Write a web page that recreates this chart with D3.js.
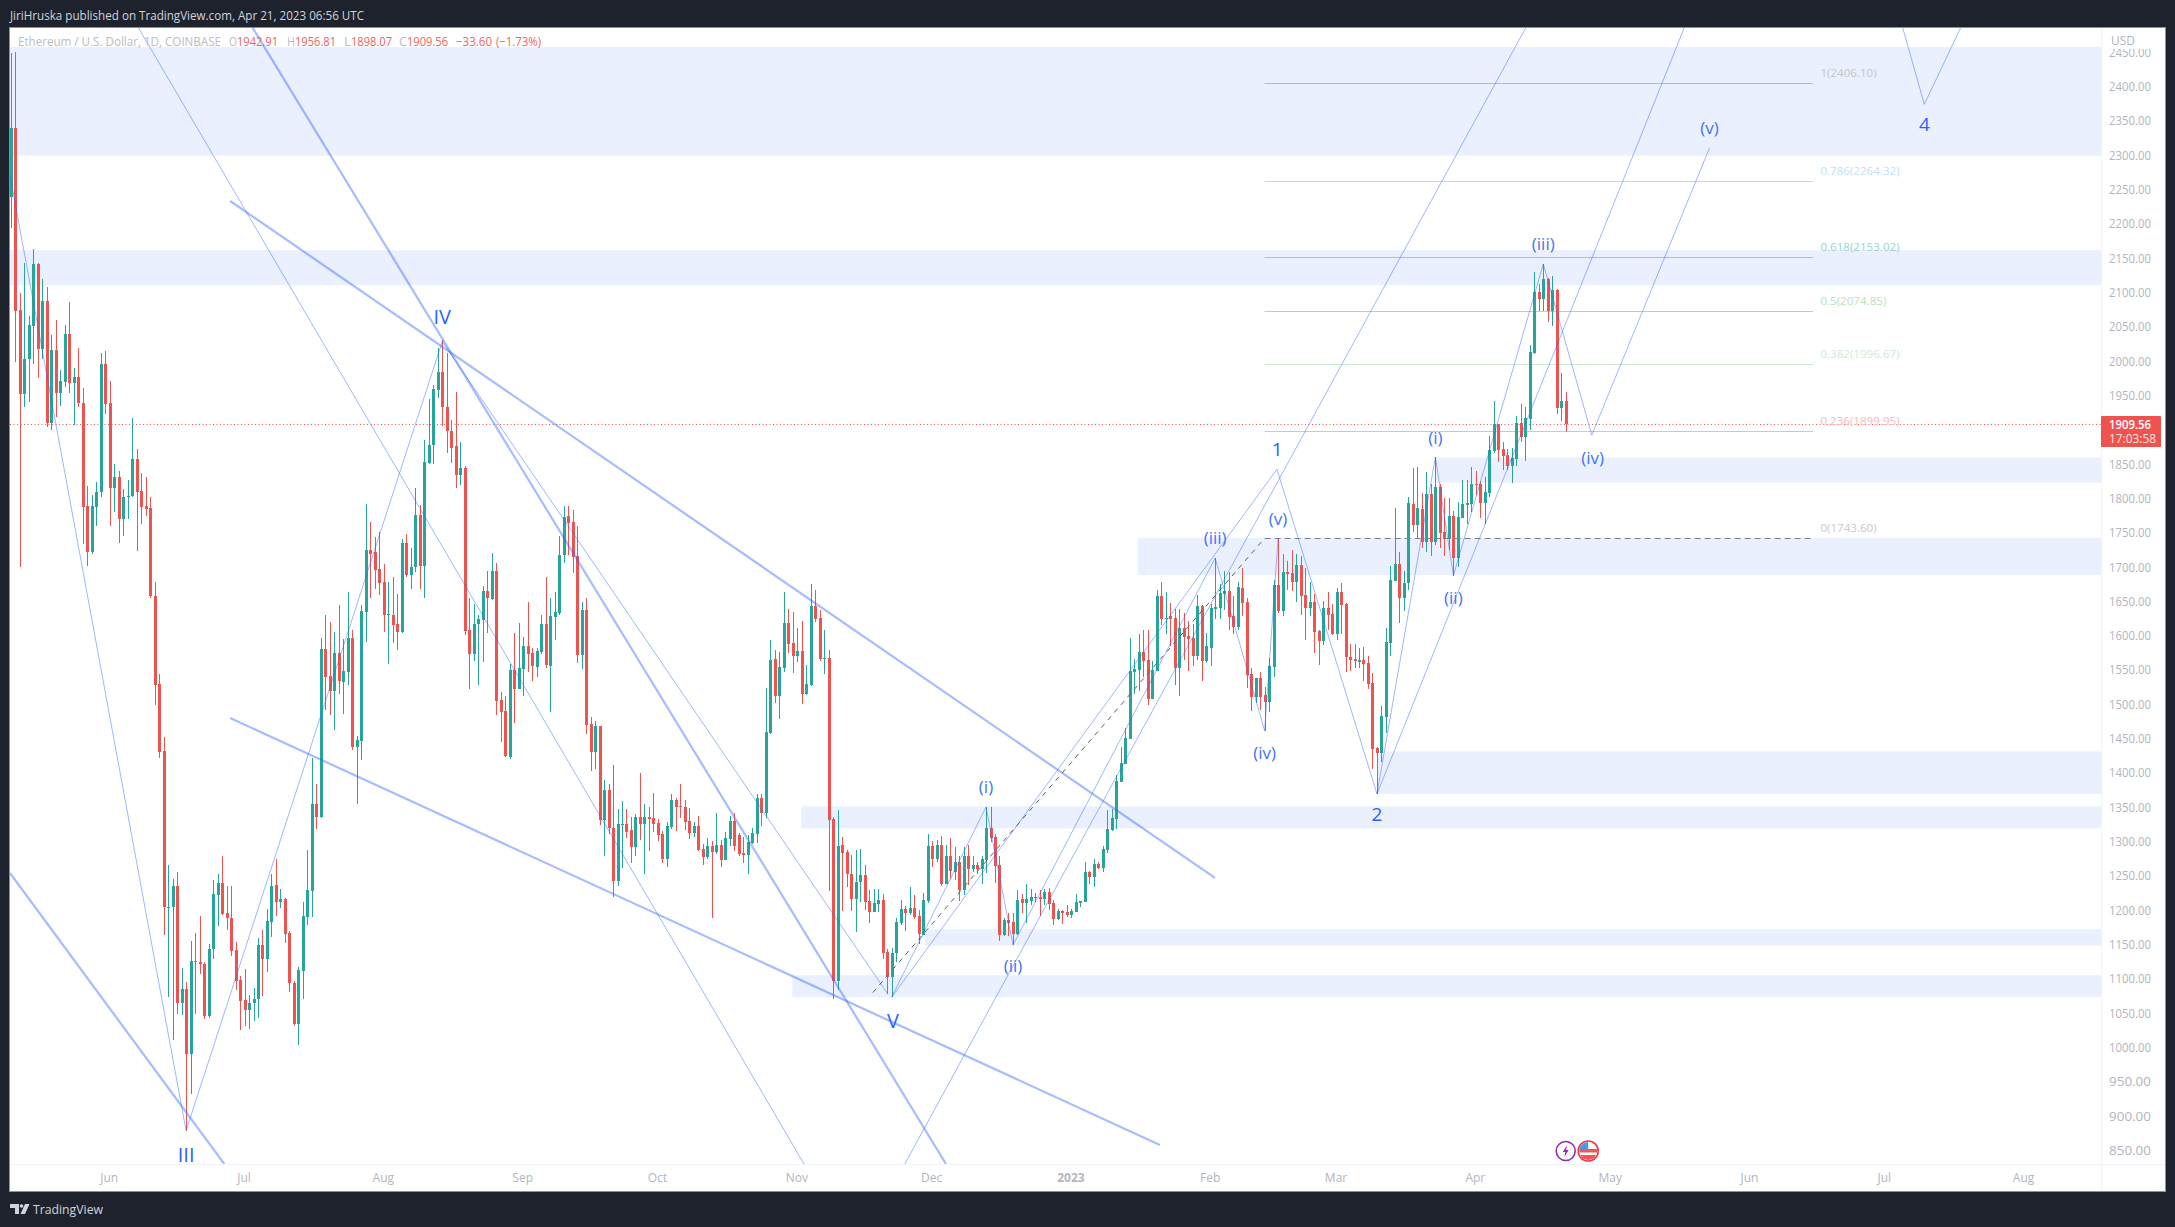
<!DOCTYPE html>
<html><head><meta charset="utf-8">
<script src="https://cdn.jsdelivr.net/npm/d3@7/dist/d3.min.js"></script>
<style>html,body{margin:0;padding:0;background:#1e222d;overflow:hidden}svg{display:block}text{font-family:"Open Sans",sans-serif}</style>
</head><body><svg id="c" width="2175" height="1227"></svg>
<script>
// Daily candles as [open, high, low, close]
const may22=[[2240,2450,2195,2341],[2341,2452,2000,2074],[2076,2100,1702,1954],[1954,2145,1935,2005],[2005,2067,1942,2054],[2053,2165,1997,2143],[2143,2145,1977,2019],[2019,2121,2005,2089],[2089,2109,1906,1912],[1912,2039,1901,2018],[2018,2062,1920,1955],[1955,1988,1936,1972],[1971,2054,1964,2041],[2041,2087,1955,1970],[1970,1991,1909,1978],[1978,2020,1934,1941],[1940,1963,1735,1789],[1790,1820,1703,1724],[1724,1807,1721,1790],[1789,1825,1762,1811],[1811,2013,1804,1998],[1998,2016,1924,1939]];
const jun22=[[1940,1972,1762,1816],[1816,1852,1781,1833],[1833,1842,1737,1772],[1772,1815,1747,1803],[1803,1829,1772,1805],[1805,1918,1804,1859],[1859,1873,1725,1811],[1812,1838,1764,1789],[1790,1832,1776,1786],[1787,1803,1656,1659],[1660,1680,1500,1530],[1531,1546,1424,1432],[1433,1454,1165,1207],[1207,1267,1076,1207],[1207,1247,1012,1237],[1237,1257,1050,1067],[1067,1117,1049,1087],[1087,1097,880,992],[992,1157,934,1128],[1127.5,1168,1051,1126],[1127,1193,1109,1123],[1124,1127,1043,1048],[1048,1153,1045,1145],[1145,1246,1131,1225],[1224,1255,1179,1241],[1241,1280,1195,1196],[1197,1237,1173,1191],[1191,1237,1135,1142],[1144,1155,1085,1099],[1100,1106,1027,1070]];
const jul22=[[1071,1116,1033,1056],[1057,1078,1028,1066],[1066,1088,1041,1073],[1073,1161,1045,1151],[1151,1173,1077,1131],[1131,1203,1112,1186],[1184,1254,1163,1237],[1238,1276,1193,1213],[1213,1233,1205,1218],[1218,1219,1154,1167],[1168,1172,1082,1095],[1096,1098,1033,1036],[1036,1119,1005,1114],[1113,1214,1072,1193],[1192,1289,1180,1231],[1230,1423,1192,1356],[1356,1386,1320,1338],[1338,1598,1336,1582],[1582,1632,1493,1542],[1543,1622,1486,1521],[1521,1607,1464,1576],[1576,1646,1517,1535],[1534,1597,1487,1550],[1548,1665,1530,1598],[1598,1610,1435,1440],[1440,1455,1357,1450],[1448,1646,1421,1637],[1636,1793,1593,1726],[1726,1767,1657,1720],[1723,1746,1669,1697],[1699,1753,1661,1678]];
const aug22=[[1680,1706,1607,1631],[1631,1680,1560,1633],[1632,1687,1591,1617],[1618,1663,1581,1607],[1607,1742,1606,1736],[1737,1750,1687,1690],[1690,1730,1670,1701],[1701,1817,1695,1777],[1777,1792,1669,1703],[1703,1886,1657,1854],[1853,1946,1851,1880],[1879,1967,1852,1961],[1959,2020,1948,1985],[1985,2032,1907,1935],[1935,2013,1868,1899],[1900,1916,1853,1875],[1878,1957,1816,1835],[1835,1883,1821,1846],[1846,1849,1602,1609],[1610,1657,1524,1575],[1575,1648,1564,1619],[1618,1631,1530,1626],[1624,1674,1563,1667],[1667,1696,1605,1657],[1655,1722,1654,1696],[1696,1707,1486,1507],[1508,1520,1446,1490],[1492,1513,1425,1426],[1425,1560,1422,1552],[1552,1606,1475,1524],[1524,1620,1524,1554]];
const sep22=[[1553,1600,1514,1586],[1586,1651,1548,1575],[1576,1583,1536,1557],[1556,1584,1542,1579],[1578,1632,1575,1619],[1619,1687,1555,1559],[1557,1657,1491,1630],[1629,1665,1595,1636],[1635,1747,1632,1719],[1719,1790,1708,1774],[1776,1790,1719,1766],[1767,1785,1693,1716],[1718,1761,1562,1573],[1573,1650,1553,1639],[1639,1656,1458,1471],[1473,1483,1404,1432],[1432,1477,1408,1470],[1470,1470,1326,1333],[1333,1392,1280,1377],[1377,1386,1313,1321],[1322,1413,1221,1244],[1244,1349,1237,1327],[1327,1361,1263,1328],[1327,1349,1307,1316],[1319,1338,1271,1294],[1294,1342,1280,1337],[1337,1401,1304,1327],[1327,1356,1254,1337],[1337,1352,1288,1334],[1336,1373,1316,1328]];
const oct22=[[1329,1335,1303,1311],[1313,1317,1271,1276],[1276,1330,1264,1324],[1323,1371,1320,1362],[1362,1365,1317,1352],[1353,1386,1336,1352],[1352,1362,1319,1330],[1332,1350,1305,1314],[1314,1330,1309,1324],[1324,1339,1288,1289],[1291,1298,1268,1279],[1279,1307,1277,1295],[1295,1302,1191,1286],[1286,1344,1284,1297],[1297,1304,1265,1275],[1275,1315,1275,1307],[1306,1339,1295,1332],[1332,1343,1288,1295],[1311,1314,1281,1283],[1285,1309,1271,1282],[1282,1311,1254,1301],[1300,1321,1298,1314],[1313,1371,1299,1365],[1365,1371,1324,1343],[1343,1525,1336,1461],[1460,1595,1458,1566],[1568,1581,1503,1514],[1514,1578,1480,1556],[1554,1665,1549,1620],[1620,1640,1576,1589],[1591,1636,1547,1572]];
const nov22=[[1572,1613,1563,1579],[1579,1623,1502,1517],[1517,1559,1515,1531],[1530,1677,1528,1645],[1645,1668,1621,1626],[1627,1639,1565,1568],[1568,1610,1546,1569],[1569,1581,1229,1333],[1334,1337,1073,1098],[1098,1348,1085,1295],[1297,1308,1200,1285],[1287,1289,1236,1254],[1255,1282,1200,1218],[1218,1289,1170,1243],[1243,1291,1214,1253],[1253,1268,1202,1214],[1215,1231,1183,1199],[1199,1232,1199,1212],[1211,1232,1199,1217],[1217,1225,1131,1139],[1141,1145,1080,1104],[1104,1146,1075,1140],[1139,1190,1127,1184],[1183,1216,1180,1203],[1203,1208,1171,1198],[1198,1235,1195,1205],[1205,1224,1189,1192],[1193,1202,1153,1167],[1165,1227,1166,1216],[1215,1313,1212,1295]];
const dec22=[[1295,1302,1264,1276],[1276,1304,1272,1297],[1297,1310,1237,1240],[1240,1297,1240,1281],[1281,1307,1247,1259],[1258,1294,1246,1272],[1272,1280,1215,1231],[1231,1294,1224,1281],[1281,1297,1239,1262],[1262,1281,1258,1268],[1268,1272,1255,1262],[1262,1281,1240,1276],[1275,1352,1256,1321],[1321,1352,1301,1307],[1308,1313,1241,1266],[1267,1281,1157,1166],[1166,1190,1164,1187],[1187,1198,1164,1183],[1184,1197,1151,1167],[1167,1231,1166,1216],[1218,1226,1197,1212],[1212,1240,1183,1218],[1215,1232,1209,1221],[1220,1227,1214,1221],[1221,1231,1193,1218],[1218,1232,1209,1228],[1228,1234,1202,1211],[1212,1217,1180,1189],[1189,1204,1187,1200],[1200,1202,1182,1197],[1199,1209,1192,1195]];
const jan23=[[1195,1204,1191,1200],[1199,1225,1199,1214],[1212,1215,1206,1215],[1214,1272,1213,1257],[1257,1259,1240,1250],[1250,1277,1235,1269],[1269,1272,1262,1263],[1263,1295,1258,1291],[1289,1347,1285,1320],[1318,1349,1317,1336],[1335,1399,1320,1390],[1388,1440,1402,1416],[1415,1467,1415,1452],[1451,1598,1451,1550],[1549,1567,1517,1553],[1552,1604,1521,1578],[1578,1610,1542,1565],[1566,1610,1500,1509],[1509,1564,1509,1552],[1550,1668,1550,1659],[1659,1680,1617,1626],[1627,1665,1604,1628],[1630,1649,1586,1626],[1627,1641,1530,1555],[1555,1641,1514,1613],[1613,1634,1566,1600],[1601,1623,1550,1597],[1598,1618,1557,1572],[1572,1661,1566,1645],[1645,1646,1536,1565],[1565,1605,1562,1586]];
const feb23=[[1584,1648,1557,1642],[1641,1714,1626,1643],[1642,1677,1626,1664],[1662,1696,1639,1667],[1667,1695,1610,1629],[1630,1659,1604,1614],[1614,1680,1610,1672],[1671,1700,1630,1649],[1651,1656,1525,1544],[1546,1555,1492,1512],[1512,1540,1504,1540],[1540,1549,1493,1512],[1515,1527,1463,1505],[1505,1569,1490,1557],[1556,1683,1542,1675],[1675,1743,1634,1637],[1637,1721,1630,1694],[1694,1711,1668,1691],[1693,1727,1667,1680],[1680,1721,1651,1704],[1704,1718,1632,1659],[1661,1700,1595,1642],[1642,1680,1630,1651],[1651,1662,1576,1607],[1608,1610,1559,1594],[1594,1652,1588,1642],[1642,1665,1610,1632],[1633,1648,1602,1604]];
const mar23=[[1604,1671,1595,1665],[1665,1678,1604,1646],[1648,1649,1549,1570],[1571,1589,1550,1566],[1567,1589,1555,1565],[1563,1584,1554,1566],[1566,1585,1536,1560],[1562,1572,1524,1531],[1533,1547,1407,1437],[1438,1440,1371,1431],[1431,1499,1418,1485],[1483,1613,1460,1592],[1591,1703,1572,1683],[1681,1787,1681,1706],[1706,1723,1620,1656],[1656,1696,1637,1678],[1678,1804,1668,1795],[1793,1846,1753,1763],[1763,1847,1743,1788],[1786,1809,1729,1738],[1738,1840,1724,1808],[1808,1823,1717,1738],[1738,1862,1734,1818],[1818,1823,1729,1751],[1753,1802,1717,1742],[1742,1802,1726,1776],[1776,1783,1689,1715],[1715,1796,1702,1774],[1773,1828,1773,1793],[1792,1829,1764,1795],[1793,1847,1781,1822]];
const apr23=[[1822,1841,1806,1821],[1822,1827,1773,1795],[1795,1833,1764,1811],[1809,1892,1804,1872],[1871,1943,1867,1910],[1910,1910,1855,1872],[1873,1884,1843,1863],[1865,1874,1843,1849],[1849,1875,1824,1860],[1859,1921,1849,1911],[1911,1939,1884,1891],[1891,1934,1856,1919],[1917,2025,1901,2015],[2013,2131,2012,2102],[2102,2114,2074,2092],[2092,2143,2075,2121],[2121,2122,2058,2074],[2074,2125,2053,2105],[2105,2106,1924,1933],[1933,1984,1914,1943],[1942.91,1956.81,1898.07,1909.56]];
const priceTicks=[850,900,950,1000,1050,1100,1150,1200,1250,1300,1350,1400,1450,1500,1550,1600,1650,1700,1750,1800,1850,1950,2000,2050,2100,2150,2200,2250,2300,2350,2400,2450];
const monthDays=[0,30,61,92,122,153,183,214,245,273,304,334,365,395,426];
const monthNames=["Jun","Jul","Aug","Sep","Oct","Nov","Dec","2023","Feb","Mar","Apr","May","Jun","Jul","Aug"];
const zones=[[-23,2459,2300.7],[-23,2163,2112],[295,1861,1824.5],[228.8,1744,1690],[282.2,1433,1371],[153.9,1353,1321],[181.4,1174,1150],[151.9,1107,1075]];
const fibLevels=[["1(2406.10)",2406.10,"#b4bac8","#c4c5cb"],["0.786(2264.32)",2264.32,"#b3dbfa","#bfe0fb"],["0.618(2153.02)",2153.02,"#8fcfc9","#93d4cf"],["0.5(2074.85)",2074.85,"#aadcae","#b9e1bb"],["0.382(1996.67)",1996.67,"#cbe9cd","#d0ead2"],["0.236(1899.95)",1899.95,"#fab4b6","#fab8ba"],["0(1743.60)",1743.60,"#7d808c","#c9cacf"]];
const thickLines=[[[-22.2,1255.9],[25.5,832.1]],[[31.7,2488.1],[186.1,832.1]],[[26.8,2234.7],[245.96,1248.7]],[[26.8,1481.7],[233.7,859.8]]];
const thinLines=[[[6.3,2488.1],[154.5,832.1]],[[176.8,830.6],[315.2,2488.1]],[[-22.6,2287],[17,880.6],[74,2030],[173,1081.1]],[[174,1075],[195,1352],[201,1151],[246,1714.7],[257,1463],[260,1743.6]],[[174,1075],[259.75,1844],[282,1371],[378.9,2952.5],[403.8,2375.5],[411.9,2487.4]],[[282,1371],[295,1861.8],[299,1689],[319,2143],[329.8,1893.9],[356,2311.9]]];
const fibTrend=[[169.8,1081.6],[257,1743.6]];
const fibSpan=[257,379];
const waveLabels=[["IV",74,2067,20,1],["III",17,846.5,20,1],["V",174.3,1041,20,1],["1",259.8,1874,19,1],["2",282,1342,19,1],["4",403.8,2347,19,1],["(i)",195,1382,17,0],["(ii)",201,1121,17,0],["(iii)",246,1744,17,0],["(iv)",257,1431,17,0],["(v)",260,1772,17,0],["(i)",295,1890,17,0],["(ii)",299,1657,17,0],["(iii)",319,2173,17,0],["(iv)",330,1861,17,0],["(v)",356,2342,17,0]];
const legendParts=[["Ethereum / U.S. Dollar, 1D, COINBASE",18,203,"#b9bcc5"],["O",229,8,"#b9bcc5"],["1942.91",237,41,"#f0645f"],["H",287,8,"#b9bcc5"],["1956.81",295,41,"#f0645f"],["L",344,7,"#b9bcc5"],["1898.07",351,41,"#f0645f"],["C",399,8,"#b9bcc5"],["1909.56",407,41,"#f0645f"],["\u221233.60",456,36,"#f0645f"],["(\u22121.73%)",496,45,"#f0645f"]];
const lastPrice=1909.56;

const svg=d3.select("#c");
const day=d=>new Date(Date.UTC(2022,5,1)+d*864e5);
const x=d3.scaleUtc().domain([day(0),day(426)]).range([109.7,2024.1]);
const y=d3.scaleLinear().domain([2400,850]).range([87.5,1151.7]);
const X=d=>x(day(d));
const candles=[].concat(may22,jun22,jul22,aug22,sep22,oct22,nov22,dec22,jan23,feb23,mar23,apr23).map((r,i)=>({d:i-22,o:r[0],h:r[1],l:r[2],c:r[3]}));

const defs=svg.append("defs");
defs.append("clipPath").attr("id","plot").append("rect").attr("x",10).attr("y",28).attr("width",2091).attr("height",1136);
defs.append("clipPath").attr("id","ticks").append("rect").attr("x",2102).attr("y",49).attr("width",62).attr("height",1114);

svg.append("rect").attr("width",2175).attr("height",1227).attr("fill","#1e222d");
svg.append("rect").attr("x",9.5).attr("y",27.5).attr("width",2156).attr("height",1164).attr("fill","#fff").attr("stroke","#8d9099");

const plot=svg.append("g").attr("clip-path","url(#plot)");
plot.selectAll("rect.z").data(zones).join("rect").attr("class","z")
 .attr("x",d=>X(d[0])).attr("width",d=>2102-X(d[0])).attr("y",d=>y(d[1])).attr("height",d=>y(d[2])-y(d[1])).attr("fill","#eaf0fd");

// fib levels
plot.selectAll("line.f").data(fibLevels).join("line").attr("class","f")
 .attr("x1",X(fibSpan[0])).attr("x2",X(fibSpan[1])).attr("y1",d=>Math.round(y(d[1]))+.5).attr("y2",d=>Math.round(y(d[1]))+.5)
 .attr("stroke",d=>d[2]).attr("stroke-width",1).attr("stroke-dasharray",d=>d[1]===1743.60?"6 4":null);
plot.append("line").attr("x1",10).attr("x2",2102).attr("y1",Math.round(y(lastPrice))+.5).attr("y2",Math.round(y(lastPrice))+.5)
 .attr("stroke","#ef5350").attr("stroke-width",1).attr("stroke-dasharray","1 2.5");

// candles
const col=d=>d.c>=d.o?"#26a69a":"#ef5350";
const cg=plot.append("g").attr("shape-rendering","crispEdges");
cg.selectAll("rect.w").data(candles).join("rect").attr("class","w")
 .attr("x",d=>Math.round(X(d.d))-.5).attr("width",1).attr("y",d=>y(d.h)).attr("height",d=>Math.max(1,y(d.l)-y(d.h))).attr("fill",col);
cg.selectAll("rect.b").data(candles).join("rect").attr("class","b")
 .attr("x",d=>Math.round(X(d.d))-1.5).attr("width",3).attr("y",d=>y(Math.max(d.o,d.c))).attr("height",d=>Math.max(1,Math.abs(y(d.o)-y(d.c)))).attr("fill",col);

// drawings
const ln=d3.line().x(p=>X(p[0])).y(p=>y(p[1]));
plot.selectAll("path.thick").data(thickLines).join("path").attr("class","thick").attr("d",ln).attr("fill","none").attr("stroke","#2962ff").attr("stroke-opacity",.42).attr("stroke-width",2.2);
plot.selectAll("path.thin").data(thinLines).join("path").attr("class","thin").attr("d",ln).attr("fill","none").attr("stroke","#2962ff").attr("stroke-opacity",.46).attr("stroke-width",1);
plot.append("path").attr("d",ln(fibTrend)).attr("fill","none").attr("stroke","#5d606b").attr("stroke-width",1).attr("stroke-dasharray","5 5");

// fib labels
svg.selectAll("text.fl").data(fibLevels).join("text").attr("class","fl").text(d=>d[0])
 .attr("x",X(fibSpan[1])+7.5).attr("y",d=>y(d[1])-10.5).attr("dominant-baseline","central").attr("fill",d=>d[3]).attr("font-size",11.6);

// wave labels
plot.selectAll("text.wl").data(waveLabels).join("text").attr("class","wl").text(d=>d[0])
 .attr("x",d=>X(d[1])).attr("y",d=>y(d[2])).attr("text-anchor","middle").attr("dominant-baseline","central")
 .attr("font-size",d=>d[3]).attr("fill",d=>d[4]?"#2962ff":"#3f74f5");

// right axis
svg.append("line").attr("x1",2101.5).attr("x2",2101.5).attr("y1",28).attr("y2",1191).attr("stroke","#f0f3fa");
svg.append("line").attr("x1",10).attr("x2",2165).attr("y1",1164.5).attr("y2",1164.5).attr("stroke","#f0f3fa");
const ya=svg.append("g").attr("clip-path","url(#ticks)").append("g").attr("transform","translate(2109,-1)")
 .call(d3.axisRight(y).tickValues(priceTicks).tickSize(0).tickPadding(0).tickFormat(d3.format(".2f")));
ya.select(".domain").remove();
ya.selectAll("text").attr("font-family",'"Open Sans",sans-serif').attr("font-size",12.2).attr("fill","#b2b5be").attr("textLength",42).attr("lengthAdjust","spacingAndGlyphs");
// time axis
const xa=svg.append("g").attr("transform","translate(-1,1173)")
 .call(d3.axisBottom(x).tickValues(monthDays.map(day)).tickSize(0).tickPadding(0).tickFormat((d,i)=>monthNames[i]));
xa.select(".domain").remove();
xa.selectAll("text").attr("font-family",'"Open Sans",sans-serif').attr("font-size",12).attr("fill","#b2b5be").attr("font-weight",(d,i)=>monthNames[i]==="2023"?700:400);

svg.append("text").text("USD").attr("x",2111).attr("y",40).attr("dominant-baseline","central").attr("fill","#b2b5be").attr("font-size",12);

// last price tag
svg.append("rect").attr("x",2101).attr("y",416).attr("width",60).attr("height",31).attr("fill","#ef5350").attr("rx",1);
svg.append("text").text("1909.56").attr("x",2109).attr("y",424.5).attr("dominant-baseline","central").attr("fill","#fff").attr("font-weight",600).attr("font-size",12.2).attr("textLength",42).attr("lengthAdjust","spacingAndGlyphs");
svg.append("text").text("17:03:58").attr("x",2109).attr("y",438.5).attr("dominant-baseline","central").attr("fill","#fde3e2").attr("font-size",12.2).attr("textLength",47).attr("lengthAdjust","spacingAndGlyphs");

// header and legend
svg.append("text").text("JiriHruska published on TradingView.com, Apr 21, 2023 06:56 UTC").attr("x",10).attr("y",15)
 .attr("dominant-baseline","central").attr("fill","#d1d4dc").attr("font-size",12.5).attr("textLength",354).attr("lengthAdjust","spacingAndGlyphs");
svg.selectAll("text.lg").data(legendParts).join("text").attr("class","lg").text(d=>d[0]).attr("x",d=>d[1]).attr("y",41.7)
 .attr("dominant-baseline","central").attr("fill",d=>d[3]).attr("font-size",12).attr("textLength",d=>d[2]).attr("lengthAdjust","spacingAndGlyphs");

// event icons
const ev1=svg.append("g").attr("transform",`translate(${X(324)},1151)`);
ev1.append("circle").attr("r",9.5).attr("fill","#fff").attr("stroke","#9c27b0").attr("stroke-width",1.6);
ev1.append("path").attr("d","M1.5,-6 L-3,1 L-0.3,1 L-1.5,6 L3,-1 L0.3,-1 Z").attr("fill","#9c27b0");
const ev2=svg.append("g").attr("transform",`translate(${X(329)},1151)`);
defs.append("clipPath").attr("id","flag").append("circle").attr("r",9);
ev2.append("circle").attr("r",10).attr("fill","#fff").attr("stroke","#f23645").attr("stroke-width",1.6);
const fg=ev2.append("g").attr("clip-path","url(#flag)");
fg.append("rect").attr("x",-9).attr("y",-2).attr("width",18).attr("height",3.5).attr("fill","#f0565a");
fg.append("rect").attr("x",-9).attr("y",4).attr("width",18).attr("height",5).attr("fill","#f0565a");
fg.append("rect").attr("x",-9).attr("y",-9).attr("width",9).attr("height",8).attr("fill","#3f9bf0");

// brand
const logo=svg.append("g").attr("fill","#d1d4dc");
logo.append("path").attr("d","M10,1204 H19 V1214 H15 V1208 H10 Z");
logo.append("circle").attr("cx",21.5).attr("cy",1206).attr("r",1.8);
logo.append("path").attr("d","M25,1204 H29.5 L25,1214 H20.5 Z");
svg.append("text").text("TradingView").attr("x",33).attr("y",1209.3).attr("dominant-baseline","central").attr("fill","#d1d4dc").attr("font-size",13).attr("textLength",70).attr("lengthAdjust","spacingAndGlyphs");
</script></body></html>
